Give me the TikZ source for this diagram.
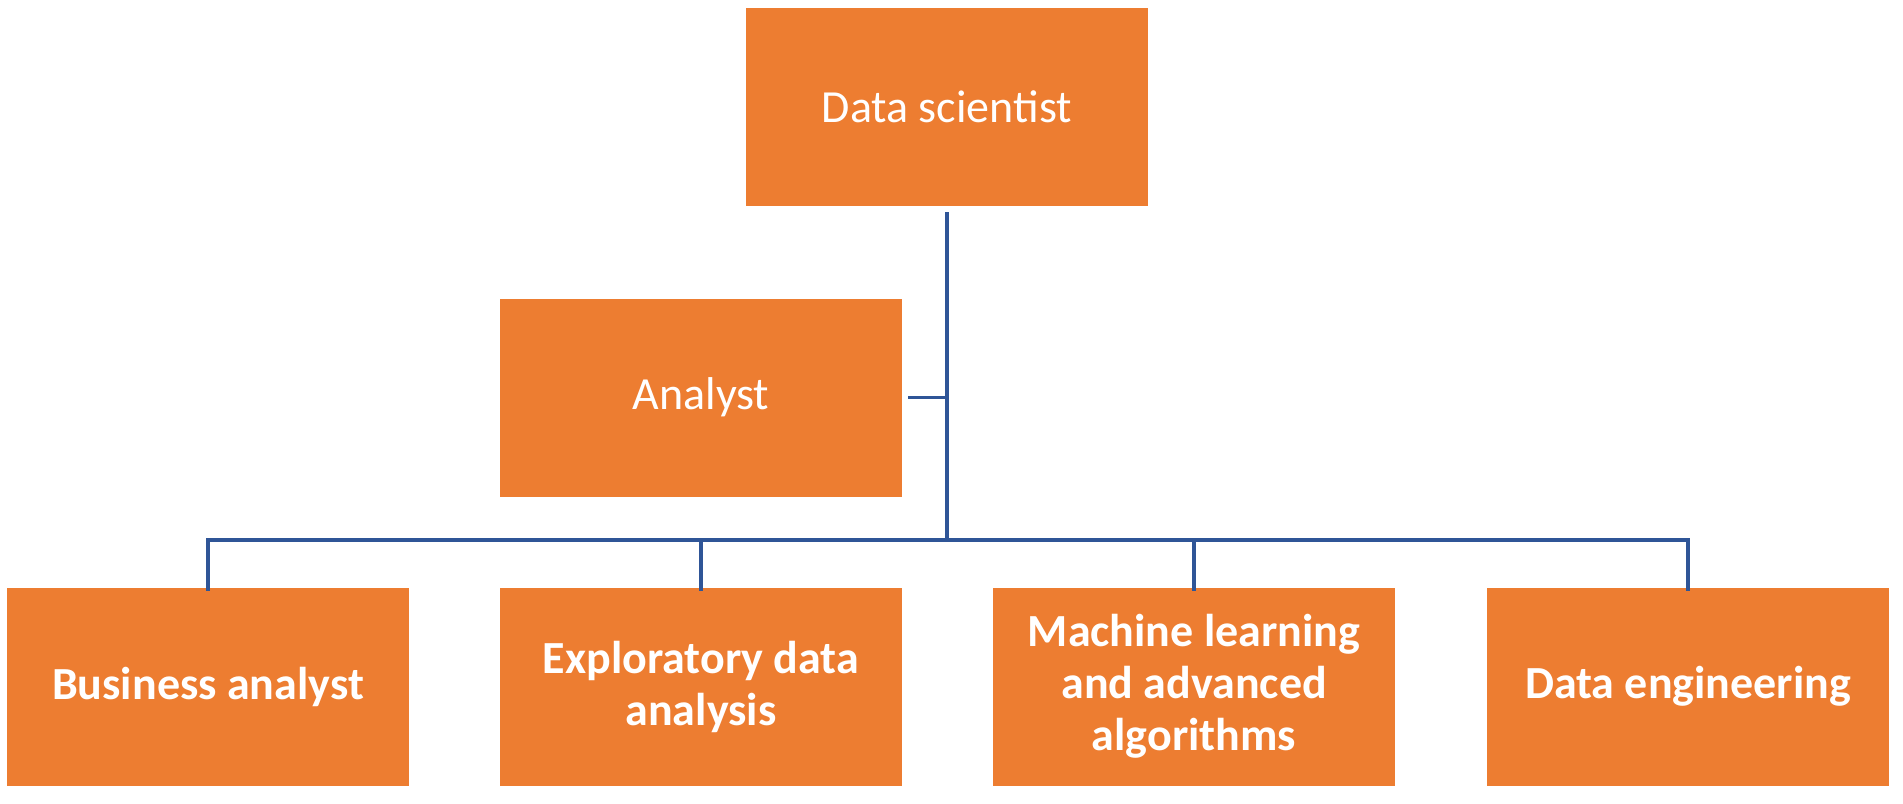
\documentclass[tikz,border=0pt]{standalone}
\usepackage{fontspec}
\setmainfont{Carlito}
\definecolor{boxor}{HTML}{ED7D31}
\definecolor{lineb}{HTML}{2F5597}
\begin{document}
\begin{tikzpicture}[x=1pt,y=-1pt,
  box/.style={fill=boxor,draw=none,minimum width=402pt,minimum height=198pt,text=white,align=center,font=\fontsize{46}{52}\selectfont,inner sep=0pt},
  bbox/.style={box,font=\fontsize{46}{52}\selectfont\bfseries},
  conn/.style={draw=lineb,line width=3.5pt}]
\useasboundingbox (0,0) rectangle (1903,803);
\node[box] (ds) at (947,107) {Data scientist};
\node[box] (an) at (701,397.5) {Analyst};
\node[bbox] (b1) at (208,686.5) {Business analyst};
\node[bbox] (b2) at (701,686.5) {Exploratory data\\analysis};
\node[bbox] (b3) at (1194,686.5) {Machine learning\\and advanced\\algorithms};
\node[bbox] (b4) at (1688,686.5) {Data engineering};
\coordinate (j) at (947,540);
\draw[conn] ([yshift=-6pt]ds.south) -- (j);
\draw[conn] ([xshift=6pt]an.east) -- (an.east -| j);
\draw[conn] (j) -| ([yshift=-4pt]b1.north);
\draw[conn] (j) -| ([yshift=-4pt]b4.north);
\draw[conn] (b2.north |- j) -- ([yshift=-4pt]b2.north);
\draw[conn] (b3.north |- j) -- ([yshift=-4pt]b3.north);
\end{tikzpicture}
\end{document}
